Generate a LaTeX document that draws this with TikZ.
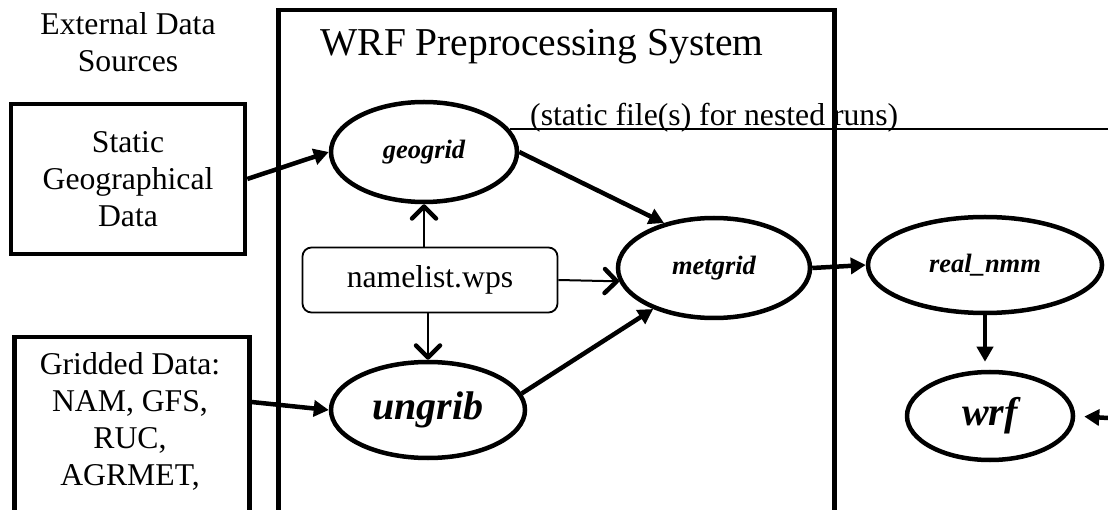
\documentclass[tikz,border=0pt]{standalone}
\usepackage{fontspec}
\setmainfont{Liberation Serif}
\usepackage{tikz}
\usetikzlibrary{calc,shapes,positioning}
\usetikzlibrary{arrows.meta}
\tikzset{>={Triangle[length=15pt,width=16pt]}}
\newcommand{\bodysize}{\fontsize{31.7}{37}\selectfont}
\newcommand{\titlesize}{\fontsize{39.5}{43}\selectfont}
\newcommand{\procsize}{\bfseries\itshape\fontsize{26.5}{30}\selectfont}
\newcommand{\bigprocsize}{\bfseries\itshape\fontsize{40}{44}\selectfont}

\begin{document}
\begin{tikzpicture}[x=1pt,y=-1pt]
    \tikzstyle{bnode} = [draw=black, line width=4.5pt, rectangle, inner sep=0pt, align=center, font=\bodysize]
    \tikzstyle{enode} = [draw=black, line width=4.5pt, ellipse, inner sep=0pt, font=\procsize]
    \tikzstyle{nnode} = [draw=black, line width=1.8pt, rectangle, rounded corners=9pt, inner sep=0pt, font=\bodysize]
    \tikzstyle{tnode} = [align=center, font=\bodysize, inner sep=0pt]
    \tikzstyle{tarrow} = [->, line width=4.5pt]
    \tikzstyle{narrow} = [-{Straight Barb[length=12pt,width=24pt,line width=4.5pt,round]}, line width=2pt]
    \clip (0,0) rectangle (1108,510);

    \node[tnode] (ext) at (128,42) {External Data\\Sources};
    \node[bnode, minimum width=556pt, minimum height=560pt, anchor=north west] (wps) at (276,8) {};
    \node[tnode, font=\titlesize, anchor=base] (title) at (542,56) {WRF Preprocessing System};
    \node[bnode, minimum width=234pt, minimum height=150pt] (static) at (128,179) {Static\\Geographical\\Data};
    \node[bnode, minimum width=235pt, minimum height=240pt, anchor=north west] (gridded) at (12,335) {};
    \node[tnode] (gridtxt) at (130,421) {Gridded Data:\\NAM, GFS,\\RUC,\\AGRMET,};

    \node[enode, minimum width=186pt, minimum height=100pt] (geogrid) at (424,152) {geogrid};
    \node[nnode, minimum width=255pt, minimum height=65pt] (namelist) at (430,280) {namelist.wps};
    \node[enode, minimum width=194pt, minimum height=96pt, font=\bigprocsize] (ungrib) at (428,410) {ungrib};
    \node[enode, minimum width=192pt, minimum height=100pt] (metgrid) at (714,268) {metgrid};
    \node[enode, minimum width=234pt, minimum height=96pt] (realnmm) at (985,265) {real\_nmm};
    \node[enode, minimum width=166pt, minimum height=88pt, font=\bigprocsize] (wrf) at (990,416) {wrf};
    \coordinate (nestout) at (1108,130);
    \coordinate (wrfin) at (1108,418);

    \node[tnode, anchor=base west] (nested) at (530,126) {(static file(s) for nested runs)};
    \draw[line width=1.8pt] (geogrid.15) -- (geogrid.15 -| nestout);

    \draw[tarrow] (static.east) to (geogrid.west);
    \draw[tarrow] ($(gridded.east |- ungrib.west)+(0,-8)$) to (ungrib.west);
    \draw[tarrow] (geogrid.east) to (metgrid.138);
    \draw[tarrow] (ungrib.10) to (metgrid.214);
    \draw[tarrow] (metgrid.east) to (realnmm.west);
    \draw[tarrow, shorten >=8pt] (realnmm.south) to (realnmm.south |- wrf.north);
    \draw[tarrow, shorten >=9pt] (wrfin) to (wrf.east);

    \draw[narrow] (geogrid.south |- namelist.north) to (geogrid.south);
    \draw[narrow] (ungrib.north |- namelist.south) to (ungrib.north);
    \draw[narrow] (namelist.east) to (metgrid.188);
\end{tikzpicture}
\end{document}
